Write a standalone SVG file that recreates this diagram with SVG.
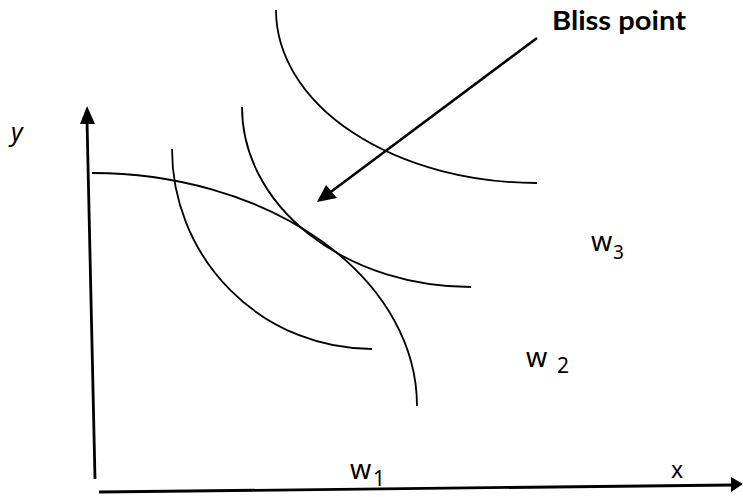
<svg xmlns="http://www.w3.org/2000/svg" width="743" height="497" viewBox="0 0 743 497">
<style>
.curve{fill:none;stroke:#000;stroke-width:1.8}
.axis{fill:none;stroke:#000;stroke-width:2.8}
.lbl{font-family:"Noto Sans","DejaVu Sans",sans-serif;fill:#000}
.bold{font-family:Lato,"Open Sans",sans-serif;font-weight:bold;fill:#000}
</style>
<rect width="743" height="497" fill="#fff"/>
<g id="connectors">
<line class="axis" x1="95" y1="479" x2="87" y2="120"/>
<polygon points="87,106 80,124 95,124" fill="#000"/>
<line class="axis" x1="99" y1="492" x2="733" y2="485"/>
<polygon points="743,484 731,477 731,492" fill="#000"/>
<line x1="537" y1="38" x2="328" y2="194" stroke="#000" stroke-width="2.6"/>
<polygon points="317,202 326,185 337,198" fill="#000"/>
</g>
<g id="curve-ppf">
<path class="curve" d="M92,173 A325,233 0 0 1 417,406" stroke-width="2"/>
</g>
<g id="curve-w1">
<path class="curve" d="M172,149 A200,200 0 0 0 372,349"/>
</g>
<g id="curve-w2">
<path class="curve" d="M242,107 A229,180 0 0 0 471,287"/>
</g>
<g id="curve-w3">
<path class="curve" d="M276,10 A261,173 0 0 0 537,183"/>
</g>
<g id="labels">
<text class="bold" x="552" y="30" font-size="27" textLength="134" lengthAdjust="spacingAndGlyphs">Bliss point</text>
<text class="lbl" x="11" y="141" font-size="25" font-style="italic">y</text>
<text class="lbl" x="671" y="478" font-size="23">x</text>
<text class="lbl" x="591" y="251" font-size="27">w</text>
<text class="lbl" x="613" y="259" font-size="19">3</text>
<text class="lbl" x="526" y="367" font-size="27">w</text>
<text class="lbl" x="557" y="373" font-size="21">2</text>
<text class="lbl" x="350" y="479" font-size="27">w</text>
<text class="lbl" x="373" y="486" font-size="21">1</text>
</g>
</svg>
